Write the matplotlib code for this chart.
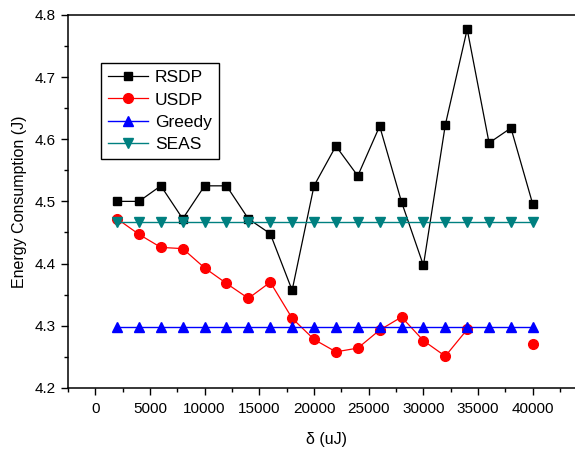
import numpy as np
import matplotlib.pyplot as plt
from matplotlib.ticker import MultipleLocator

plt.rcParams['font.family'] = ['Liberation Sans', 'DejaVu Sans']

delta = np.arange(2000, 40001, 2000)
rsdp = [4.500, 4.500, 4.525, 4.472, 4.525, 4.525, 4.472, 4.448, 4.357, 4.525,
        4.589, 4.541, 4.621, 4.499, 4.397, 4.623, 4.777, 4.594, 4.618, 4.495]
usdp = [4.472, 4.447, 4.426, 4.424, 4.393, 4.368, 4.344, 4.370, 4.312, 4.278,
        4.258, 4.264, 4.293, 4.314, 4.276, 4.251, 4.294, np.nan, np.nan, 4.270]
greedy = [4.298] * 20
seas = [4.467] * 20

fig = plt.figure(figsize=(5.75, 4.5), dpi=100)
# the right spine sits just past the figure edge
ax = fig.add_axes([0.118, 0.138, 0.900, 0.829])

ax.plot(delta, rsdp, '-s', color='black', lw=0.9, ms=6, label='RSDP')
ax.plot(delta, usdp, '-o', color='red', lw=0.9, ms=7, label='USDP')
ax.plot(delta, greedy, '-^', color='blue', lw=1.0, ms=7.5, label='Greedy')
ax.plot(delta, seas, '-v', color='#008080', lw=1.0, ms=7.5, label='SEAS')

ax.set_xlim(-2500, 44800)
ax.set_ylim(4.2, 4.8)
ax.xaxis.set_major_locator(MultipleLocator(5000))
ax.xaxis.set_minor_locator(MultipleLocator(2500))
ax.yaxis.set_major_locator(MultipleLocator(0.1))
ax.yaxis.set_minor_locator(MultipleLocator(0.05))
ax.tick_params(which='major', direction='out', length=5, width=1, labelsize=11)
ax.tick_params(which='minor', direction='out', length=3, width=1)
ax.tick_params(axis='x', pad=5)
for s in ax.spines.values():
    s.set_linewidth(1.1)

ax.set_xlabel('δ (uJ)', fontsize=11.5, labelpad=12)
ax.set_ylabel('Energy Consumption (J)', fontsize=11.5, labelpad=6)

ax.legend(loc='upper left', bbox_to_anchor=(0.0646, 0.87), borderaxespad=0,
          fontsize=12.5, handlelength=2.3, fancybox=False, framealpha=1,
          edgecolor='black', labelspacing=0.4, borderpad=0.4, handletextpad=0.4)

fig.savefig('out.png', dpi=100)
